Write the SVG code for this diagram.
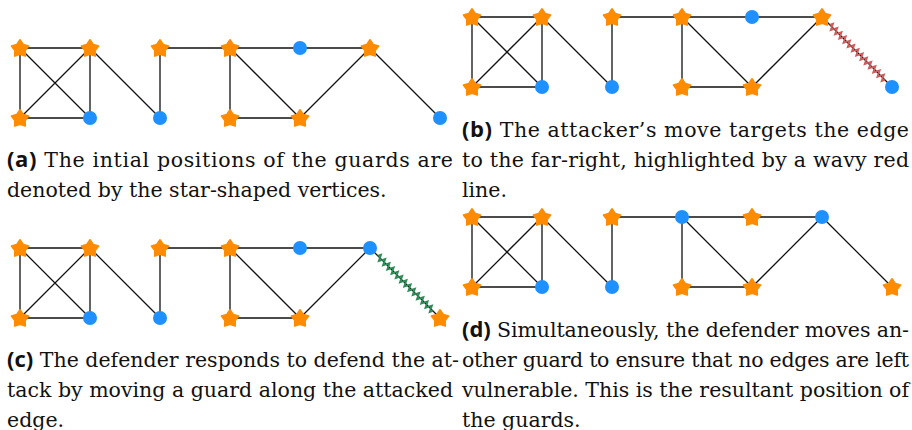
<svg xmlns="http://www.w3.org/2000/svg" xmlns:xlink="http://www.w3.org/1999/xlink" width="912" height="430" viewBox="0 0 912 430">
<style>
.e{stroke:#111;stroke-width:1.3;fill:none}
.star{fill:#FF8C00;stroke:#FF8C00;stroke-width:1.6;stroke-linejoin:round}
.dot{fill:#1E90FF}
.red{stroke:#CD5C5C;stroke-width:1.9;fill:none;stroke-linejoin:miter}
.green{stroke:#2E8B57;stroke-width:1.9;fill:none;stroke-linejoin:miter}
.cap{font-family:"DejaVu Serif","Liberation Serif",serif;font-size:20.5px;fill:#111}
.lab{font-family:"Open Sans","Noto Sans",sans-serif;font-weight:bold;font-size:22px}
</style>
<defs>
<polygon id="star" class="star" transform="translate(0,0.8)" points="0,-9 3.174,-4.369 8.56,-2.78 5.136,1.669 5.29,7.28 0,5.4 -5.29,7.28 -5.136,1.669 -8.56,-2.78 -3.174,-4.369"/>
<circle id="dot" class="dot" r="7"/>
<path id="zig" d="M11,0 L12.5,-3 L15.5,3 L18.5,-3 L21.5,3 L24.5,-3 L27.5,3 L30.5,-3 L33.5,3 L36.5,-3 L39.5,3 L42.5,-3 L45.5,3 L48.5,-3 L51.5,3 L54.5,-3 L57.5,3 L60.5,-3 L63.5,3 L66.5,-3 L69.5,3 L72.5,-3 L75.5,3 L78.5,-3 L81.5,3 L84.5,-3 L87.5,3 L89,0"/>
</defs>

<!-- Panel (a) -->
<g id="panel-a" transform="translate(20,48)">
<g id="a-edges">
<path class="e" d="M0,0H70M0,0V70M0,0L70,70M70,0L0,70M70,0V70M0,70H70M70,0L140,70M140,0V70M140,0H350M210,0V70M210,0L280,70M210,70H280M280,70L350,0M350,0L420,70"/>
</g>
<g id="a-n1"><use xlink:href="#star" x="0" y="0"/></g>
<g id="a-n2"><use xlink:href="#star" x="70" y="0"/></g>
<g id="a-n3"><use xlink:href="#star" x="0" y="70"/></g>
<g id="a-n4"><use xlink:href="#dot" x="70" y="70"/></g>
<g id="a-n5"><use xlink:href="#star" x="140" y="0"/></g>
<g id="a-n6"><use xlink:href="#dot" x="140" y="70"/></g>
<g id="a-n7"><use xlink:href="#star" x="210" y="0"/></g>
<g id="a-n8"><use xlink:href="#star" x="210" y="70"/></g>
<g id="a-n9"><use xlink:href="#dot" x="280" y="0"/></g>
<g id="a-n10"><use xlink:href="#star" x="280" y="70"/></g>
<g id="a-n11"><use xlink:href="#star" x="350" y="0"/></g>
<g id="a-n12"><use xlink:href="#dot" x="420" y="70"/></g>
</g>

<!-- Panel (b) -->
<g id="panel-b" transform="translate(472,17)">
<g id="b-edges">
<path class="e" d="M0,0H70M0,0V70M0,0L70,70M70,0L0,70M70,0V70M0,70H70M70,0L140,70M140,0V70M140,0H350M210,0V70M210,0L280,70M210,70H280M280,70L350,0M350,0L420,70"/>
<use xlink:href="#zig" class="red" transform="translate(350,0) rotate(45)"/>
</g>
<g id="b-n1"><use xlink:href="#star" x="0" y="0"/></g>
<g id="b-n2"><use xlink:href="#star" x="70" y="0"/></g>
<g id="b-n3"><use xlink:href="#star" x="0" y="70"/></g>
<g id="b-n4"><use xlink:href="#dot" x="70" y="70"/></g>
<g id="b-n5"><use xlink:href="#star" x="140" y="0"/></g>
<g id="b-n6"><use xlink:href="#dot" x="140" y="70"/></g>
<g id="b-n7"><use xlink:href="#star" x="210" y="0"/></g>
<g id="b-n8"><use xlink:href="#star" x="210" y="70"/></g>
<g id="b-n9"><use xlink:href="#dot" x="280" y="0"/></g>
<g id="b-n10"><use xlink:href="#star" x="280" y="70"/></g>
<g id="b-n11"><use xlink:href="#star" x="350" y="0"/></g>
<g id="b-n12"><use xlink:href="#dot" x="420" y="70"/></g>
</g>

<!-- Panel (c) -->
<g id="panel-c" transform="translate(20,248)">
<g id="c-edges">
<path class="e" d="M0,0H70M0,0V70M0,0L70,70M70,0L0,70M70,0V70M0,70H70M70,0L140,70M140,0V70M140,0H350M210,0V70M210,0L280,70M210,70H280M280,70L350,0M350,0L420,70"/>
<use xlink:href="#zig" class="green" transform="translate(350,0) rotate(45)"/>
</g>
<g id="c-n1"><use xlink:href="#star" x="0" y="0"/></g>
<g id="c-n2"><use xlink:href="#star" x="70" y="0"/></g>
<g id="c-n3"><use xlink:href="#star" x="0" y="70"/></g>
<g id="c-n4"><use xlink:href="#dot" x="70" y="70"/></g>
<g id="c-n5"><use xlink:href="#star" x="140" y="0"/></g>
<g id="c-n6"><use xlink:href="#dot" x="140" y="70"/></g>
<g id="c-n7"><use xlink:href="#star" x="210" y="0"/></g>
<g id="c-n8"><use xlink:href="#star" x="210" y="70"/></g>
<g id="c-n9"><use xlink:href="#dot" x="280" y="0"/></g>
<g id="c-n10"><use xlink:href="#star" x="280" y="70"/></g>
<g id="c-n11"><use xlink:href="#dot" x="350" y="0"/></g>
<g id="c-n12"><use xlink:href="#star" x="420" y="70"/></g>
</g>

<!-- Panel (d) -->
<g id="panel-d" transform="translate(472,217)">
<g id="d-edges">
<path class="e" d="M0,0H70M0,0V70M0,0L70,70M70,0L0,70M70,0V70M0,70H70M70,0L140,70M140,0V70M140,0H350M210,0V70M210,0L280,70M210,70H280M280,70L350,0M350,0L420,70"/>
</g>
<g id="d-n1"><use xlink:href="#star" x="0" y="0"/></g>
<g id="d-n2"><use xlink:href="#star" x="70" y="0"/></g>
<g id="d-n3"><use xlink:href="#star" x="0" y="70"/></g>
<g id="d-n4"><use xlink:href="#dot" x="70" y="70"/></g>
<g id="d-n5"><use xlink:href="#star" x="140" y="0"/></g>
<g id="d-n6"><use xlink:href="#dot" x="140" y="70"/></g>
<g id="d-n7"><use xlink:href="#dot" x="210" y="0"/></g>
<g id="d-n8"><use xlink:href="#star" x="210" y="70"/></g>
<g id="d-n9"><use xlink:href="#star" x="280" y="0"/></g>
<g id="d-n10"><use xlink:href="#star" x="280" y="70"/></g>
<g id="d-n11"><use xlink:href="#dot" x="350" y="0"/></g>
<g id="d-n12"><use xlink:href="#star" x="420" y="70"/></g>
</g>

<!-- Captions -->
<g id="captions">
<text class="cap" x="7" y="166.5" textLength="446" lengthAdjust="spacing"><tspan class="lab">(a)</tspan> The intial positions of the guards are</text>
<text class="cap" x="7" y="196.5">denoted by the star-shaped vertices.</text>

<text class="cap" x="462" y="136.5" textLength="447" lengthAdjust="spacing"><tspan class="lab">(b)</tspan> The attacker’s move targets the edge</text>
<text class="cap" x="462" y="166.5" textLength="447" lengthAdjust="spacing">to the far-right, highlighted by a wavy red</text>
<text class="cap" x="462" y="196.5">line.</text>

<text class="cap" x="7" y="366.5" textLength="452" lengthAdjust="spacing"><tspan class="lab">(c)</tspan> The defender responds to defend the at-</text>
<text class="cap" x="7" y="396.5" textLength="446" lengthAdjust="spacing">tack by moving a guard along the attacked</text>
<text class="cap" x="7" y="426.5">edge.</text>

<text class="cap" x="462" y="336.5" textLength="447" lengthAdjust="spacing"><tspan class="lab">(d)</tspan> Simultaneously, the defender moves an-</text>
<text class="cap" x="462" y="366.5" textLength="447" lengthAdjust="spacing">other guard to ensure that no edges are left</text>
<text class="cap" x="462" y="396.5" textLength="447" lengthAdjust="spacing">vulnerable. This is the resultant position of</text>
<text class="cap" x="462" y="426.5">the guards.</text>
</g>
</svg>
